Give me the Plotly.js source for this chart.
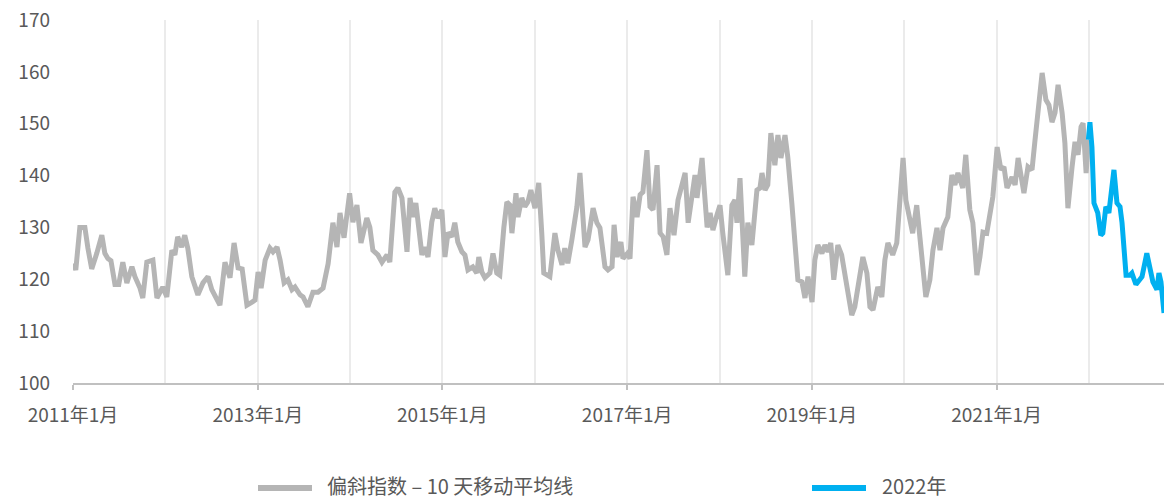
<!DOCTYPE html>
<html>
<head>
<meta charset="utf-8">
<script src="https://cdn.plot.ly/plotly-3.0.1.min.js"></script>
<style>html,body{margin:0;padding:0;background:#fff;}#chart{width:1164px;height:499px;}</style>
</head>
<body>
<div id="chart"></div>
<script>
// 偏斜指数 – 10 天移动平均线 (2011 – 2021)
const skewDates = [
"2011-01-03","2011-01-12","2011-01-28","2011-02-17","2011-03-01","2011-03-16","2011-04-05","2011-04-25","2011-05-07","2011-05-19","2011-05-31","2011-06-16","2011-07-01","2011-07-17","2011-08-02","2011-08-22","2011-09-03","2011-09-23","2011-10-04","2011-10-20","2011-11-13","2011-11-29","2011-12-22",
"2012-01-07","2012-01-27","2012-02-08","2012-02-19","2012-03-06","2012-03-18","2012-03-30","2012-04-15","2012-05-09","2012-05-29","2012-06-18","2012-07-03","2012-07-15","2012-08-04","2012-08-24","2012-09-13","2012-09-29","2012-10-15","2012-10-31","2012-11-19","2012-12-09","2012-12-21",
"2013-01-02","2013-01-14","2013-01-30","2013-02-18","2013-03-02","2013-03-18","2013-03-30","2013-04-15","2013-04-30","2013-05-16","2013-05-28","2013-06-17","2013-06-29","2013-07-18","2013-08-07","2013-08-27","2013-09-16","2013-10-06","2013-10-25","2013-11-10","2013-11-22","2013-12-08","2013-12-30",
"2014-01-12","2014-01-28","2014-02-13","2014-03-08","2014-03-20","2014-04-01","2014-04-21","2014-05-07","2014-05-27","2014-06-07","2014-06-27","2014-07-09","2014-07-25","2014-08-14","2014-08-26","2014-09-06","2014-09-18","2014-10-12","2014-10-24","2014-11-05","2014-11-20","2014-12-02","2014-12-14","2014-12-30",
"2015-01-11","2015-01-23","2015-02-07","2015-02-19","2015-03-03","2015-03-19","2015-03-31","2015-04-12","2015-05-01","2015-05-17","2015-05-25","2015-06-06","2015-06-18","2015-07-08","2015-07-20","2015-08-04","2015-08-16","2015-09-01","2015-09-13","2015-09-25","2015-10-03","2015-10-19","2015-10-27","2015-11-11","2015-11-23","2015-12-05","2015-12-17",
"2016-01-02","2016-01-17","2016-01-29","2016-02-06","2016-03-01","2016-03-21","2016-04-02","2016-04-18","2016-04-29","2016-05-11","2016-05-27","2016-06-16","2016-06-28","2016-07-06","2016-07-18","2016-07-30","2016-08-19","2016-09-03","2016-09-15","2016-10-05","2016-10-17","2016-11-02","2016-11-10","2016-11-22","2016-12-07","2016-12-15",
"2017-01-02","2017-01-12","2017-01-24","2017-02-09","2017-02-21","2017-03-04","2017-03-20","2017-04-01","2017-04-13","2017-04-29","2017-05-11","2017-05-23","2017-06-07","2017-06-19","2017-07-05","2017-07-21","2017-08-06","2017-08-18","2017-08-30","2017-09-14","2017-09-26","2017-10-04","2017-10-24","2017-11-01","2017-11-13","2017-11-25","2017-12-06","2017-12-22",
"2018-01-03","2018-01-14","2018-02-03","2018-02-19","2018-03-03","2018-03-11","2018-03-23","2018-04-11","2018-04-23","2018-05-09","2018-05-21","2018-05-29","2018-06-10","2018-06-18","2018-06-30","2018-07-11","2018-07-23","2018-08-08","2018-08-20","2018-09-01","2018-09-17","2018-09-28","2018-10-14","2018-10-26","2018-11-07","2018-11-23","2018-12-05","2018-12-17",
"2019-01-02","2019-01-13","2019-01-25","2019-02-10","2019-02-22","2019-03-06","2019-03-17","2019-03-29","2019-04-14","2019-04-29","2019-05-11","2019-05-23","2019-06-08","2019-06-20","2019-07-06","2019-07-22","2019-08-07","2019-08-19","2019-08-31","2019-09-19","2019-10-05","2019-10-17","2019-10-29","2019-11-17","2019-12-03","2019-12-11","2019-12-28",
"2020-01-08","2020-01-23","2020-02-04","2020-02-20","2020-03-03","2020-03-15","2020-03-27","2020-04-12","2020-04-24","2020-05-10","2020-05-22","2020-06-03","2020-06-22","2020-07-08","2020-07-20","2020-08-01","2020-08-20","2020-09-01","2020-09-17","2020-09-29","2020-10-15","2020-10-27","2020-11-08","2020-11-23","2020-12-05","2020-12-17",
"2021-01-03","2021-01-18","2021-01-30","2021-02-11","2021-03-03","2021-03-15","2021-03-27","2021-04-11","2021-04-19","2021-05-05","2021-05-21","2021-06-02","2021-06-18","2021-06-30","2021-07-15","2021-07-27","2021-08-08","2021-08-20","2021-09-01","2021-09-17","2021-09-28","2021-10-10","2021-10-26","2021-11-07","2021-11-19","2021-12-01","2021-12-09","2021-12-21","2021-12-30"
];
const skewValues = [
123.1,121.8,130,130,126,122,125,128.5,125,124,123.6,119,119,123.3,119.3,122.4,120.5,118.3,116.4,123.3,123.7,116.4,118.5,
116.6,125.6,124.7,128.2,126.2,128.5,126,120.5,117,119.3,120.5,118,117,115,123.3,120.3,127,122.2,122,115,115.6,116,
121.4,118.3,123.7,126,125.3,126.2,123.7,119.3,119.9,118,118.5,117,116.6,114.7,117.5,117.5,118.3,123,130.9,126.2,132.8,128,136.6,
131,134.3,127,131.8,130,125.6,124.7,123.3,124.7,123.3,136.8,137.6,135.7,125.3,135.7,132,134.7,124.7,126.2,124.3,131,133.7,131.8,133.4,
124.3,129,128.2,130.9,127.2,125.3,124.7,121.8,122.4,121.2,124.3,121.4,120.3,121.2,125,121.2,120.8,130,134.9,134.3,128.9,136.6,132,135.7,134,134.9,137.2,
133.7,138.6,128.9,121.2,120.5,128.9,125.6,122.8,126,123.1,127.6,134,140.5,134,126.2,127.6,133.7,130.9,129.9,122.4,121.8,122.4,130.5,124.3,127.2,124,
125,124,135.9,132,136.3,136.8,144.9,134,133.4,142,128.9,128.2,124.7,133.7,128.5,135.3,138.8,140.5,130.9,136.3,140.1,135.7,143.4,137.8,130,132.8,129.5,132.4,
134.3,128.9,120.8,134.3,135.3,130.9,139.5,120.5,130.9,126.6,133.4,137.2,137.6,140.5,137.2,138.2,148.2,142,147.8,143.4,147.8,143.6,134.7,126.2,119.9,119.5,116.4,120.5,
115.6,123.7,126.6,125,126.6,125.3,127,119.9,126.6,124.7,121.2,117.4,113.1,114.7,119.9,124.3,121.2,114.7,114.1,118.5,116.6,123.7,127,124.7,127,132,143.4,
135.3,132,128.9,134.3,127.6,122.4,116.6,119.9,125.6,129.9,125.6,129.9,132,140.1,138.2,140.5,137.6,144,133.4,130.9,120.8,124.3,129.1,128.9,133,135.9,
145.5,141.1,141.7,137.6,139.7,138.2,143.4,139.1,136.6,141.7,141.1,146.9,155.2,159.8,154.6,153.6,150.3,152.1,157.5,152.1,146.3,133.7,141.5,146.5,144,149.4,150.1,140.5,146.9
];
// 2022年
const y2022Dates = [
"2021-12-30","2022-01-05","2022-01-13","2022-01-21","2022-02-05","2022-02-17","2022-02-25","2022-03-09","2022-03-21","2022-04-02","2022-04-10","2022-04-22","2022-05-04","2022-05-12","2022-05-20","2022-05-28","2022-06-12","2022-06-20","2022-07-06","2022-07-18","2022-07-30","2022-08-18","2022-08-30","2022-09-11","2022-09-27","2022-10-05","2022-10-13","2022-10-25"
];
const y2022Values = [
146.9,150.3,145.5,134.7,132.8,128.5,128.9,134,132.8,137.8,141.1,134.7,134,130.9,123.7,120.8,120.8,121.2,119,119.9,120.5,125,122.4,119.5,118,121.2,119.5,113.5
];
const seriesNames = ["偏斜指数 – 10 天移动平均线", "2022年"];
const seriesColors = ["#b5b5b5", "#00b0f0"];
const xRange = ["2011-01-01", "2022-10-25"];
const yRange = [100, 170];

const FONT = '"Noto Sans CJK SC", "Noto Sans", sans-serif';
const traces = [
  {x: skewDates, y: skewValues, name: seriesNames[0], type: 'scatter', mode: 'lines',
   line: {color: seriesColors[0], width: 5}},
  {x: y2022Dates, y: y2022Values, name: seriesNames[1], type: 'scatter', mode: 'lines',
   line: {color: seriesColors[1], width: 5}}
];

// legend drawn below the plot (two entries spread wide, as in the original)
const W = 1164, ML = 73, MR = 0, PW = W - ML - MR, MT = 20, PH = 363;
const px2x = p => (p - ML) / PW;
const py2y = p => (MT + PH - p) / PH;
const legendEntries = [{x0: 258, x1: 312, tx: 326}, {x0: 812, x1: 866, tx: 881}];
const legendY = 486;
const shapes = legendEntries.map((e, i) => ({
  type: 'line', xref: 'paper', yref: 'paper',
  x0: px2x(e.x0), x1: px2x(e.x1), y0: py2y(legendY + 2), y1: py2y(legendY + 2),
  line: {color: seriesColors[i], width: 6}
}));
const annotations = legendEntries.map((e, i) => ({
  xref: 'paper', yref: 'paper', x: px2x(e.tx), y: py2y(legendY),
  xanchor: 'left', yanchor: 'middle', showarrow: false, text: seriesNames[i],
  borderpad: 0,
  font: {family: FONT, size: 20, color: '#595959'}
}));

const layout = {
  width: W, height: 499,
  margin: {l: ML, r: MR, t: MT, b: 499 - MT - PH},
  paper_bgcolor: '#fff', plot_bgcolor: '#fff',
  font: {family: FONT, size: 19, color: '#595959'},
  showlegend: false,
  shapes: shapes,
  annotations: annotations,
  xaxis: {type: 'date', range: xRange, tick0: '2011-01-01', dtick: 'M24',
          tickformat: '%Y年%-m月', showgrid: true, gridcolor: '#ebebeb', gridwidth: 2,
          minor: {dtick: 'M12', showgrid: true, gridcolor: '#ebebeb', gridwidth: 2, ticks: ''},
          showline: true, linecolor: '#c0c0c0', linewidth: 2,
          ticks: 'outside', ticklen: 5, tickcolor: '#c0c0c0', tickwidth: 2,
          ticklabelstandoff: 9, zeroline: false, automargin: false,
          tickfont: {family: FONT, size: 19, color: '#595959'}},
  yaxis: {range: yRange, dtick: 10, showgrid: false, zeroline: false, showline: false,
          ticks: '', ticklabelstandoff: 22, automargin: false,
          tickfont: {family: FONT, size: 19, color: '#595959'}}
};
Plotly.newPlot('chart', traces, layout, {displayModeBar: false, staticPlot: true});
</script>
</body>
</html>
